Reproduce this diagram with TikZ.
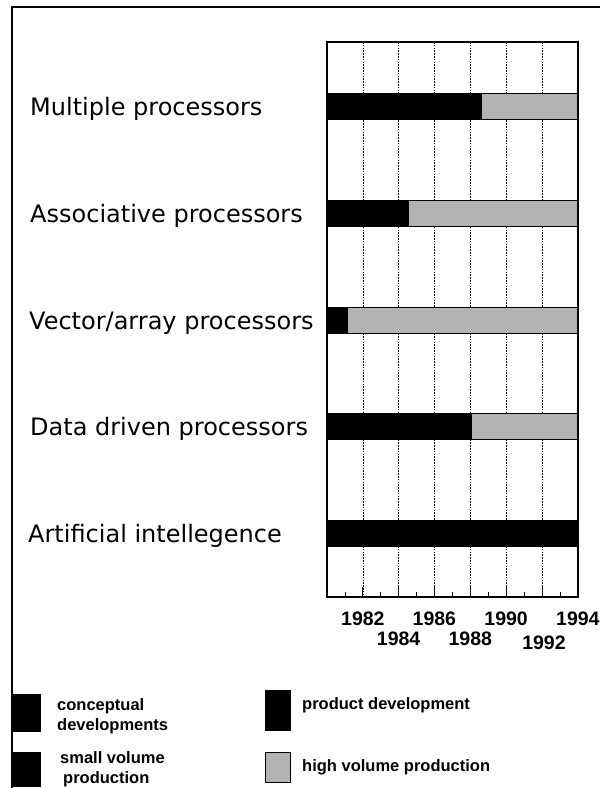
\documentclass[tikz,border=0pt]{standalone}
\usepackage{fontspec}
\setmainfont{Liberation Sans}
\newfontfamily\labelfont{DejaVu Sans}
\begin{document}
\begin{tikzpicture}[x=1pt,y=-1pt,
  rowlabel/.style={anchor=base west, inner sep=0pt, font=\labelfont\fontsize{24}{28}\selectfont},
  yearlabel/.style={anchor=base, inner sep=0pt, font=\bfseries\fontsize{19.5}{22}\selectfont},
  legendtext/.style={anchor=west, inner sep=0pt, align=left, font=\bfseries\fontsize{16.5}{19.5}\selectfont},
  frameline/.style={line width=1.4pt},
  gridline/.style={line width=0.7pt, dash pattern=on 1.6pt off 1.2pt},
  early/.style={fill=black, draw=black, line width=1pt},
  mass/.style={fill=black!30, draw=black, line width=1pt},
  keybox/.style={fill=black, draw=black, inner sep=0pt, anchor=north west}]
\useasboundingbox (0,0) rectangle (600,788);

% outer frame (top and left edges)
\draw[frameline] (12,788) -- (12,7) -- (600,7);

% year grid: one column per two years, 1980 .. 1994
\foreach \i in {1,...,6}
  \draw[gridline] ({327+35.857*\i},42) -- ({327+35.857*\i},597);
% ticks along the time axis
\foreach \i in {1,...,6}
  \draw[line width=0.8pt] ({327+35.857*\i},597) -- ({327+35.857*\i},587);
\foreach \i in {0,...,6}
  \draw[line width=0.8pt] ({327+35.857*(\i+0.5)},597) -- ({327+35.857*(\i+0.5)},592);

% bars: black part up to the split year, grey part after it
\foreach \yc/\split in {106/481, 213/408, 320/347, 426.5/471}{
  \draw[early] (327,\yc-13) rectangle (\split,\yc+13);
  \draw[mass] (\split,\yc-13) rectangle (578,\yc+13);
}
\draw[early] (327,520) rectangle (578,546);

% chart frame
\draw[line width=1.4pt] (327,42) rectangle (578,597);

% row labels
\node[rowlabel] (multi) at (30,115) {Multiple processors};
\node[rowlabel] (assoc) at (30,222) {Associative processors};
\node[rowlabel] (vector) at (29,329) {Vector/array processors};
\node[rowlabel] (data) at (30,435.5) {Data driven processors};
\node[rowlabel] (ai) at (28,542) {Artificial intellegence};

% year labels
\node[yearlabel] (y82) at (362.9,625) {1982};
\node[yearlabel] (y86) at (434.4,625) {1986};
\node[yearlabel] (y90) at (506.1,625) {1990};
\node[yearlabel] (y94) at (577.9,625) {1994};
\node[yearlabel] (y84) at (398.6,645) {1984};
\node[yearlabel] (y88) at (470.3,645) {1988};
\node[yearlabel] (y92) at (544,649) {1992};

% legend
\node[keybox, minimum width=27pt, minimum height=37pt] (kconc) at (13,694) {};
\node[keybox, minimum width=27pt, minimum height=34pt] (ksmall) at (13,752) {};
\node[keybox, minimum width=25pt, minimum height=40pt] (kprod) at (265,690) {};
\node[keybox, fill=black!30, line width=1pt, minimum width=25pt, minimum height=30pt] (khigh) at (265,752) {};

\node[legendtext] (tconc) at (57,716) {conceptual\\developments};
\node[legendtext] (tsmall) at (60,769) {small volume\\\hspace*{3pt}production};
\node[legendtext] (tprod) at (302,705) {product development};
\node[legendtext] (thigh) at (302,767) {high volume production};
\end{tikzpicture}
\end{document}
